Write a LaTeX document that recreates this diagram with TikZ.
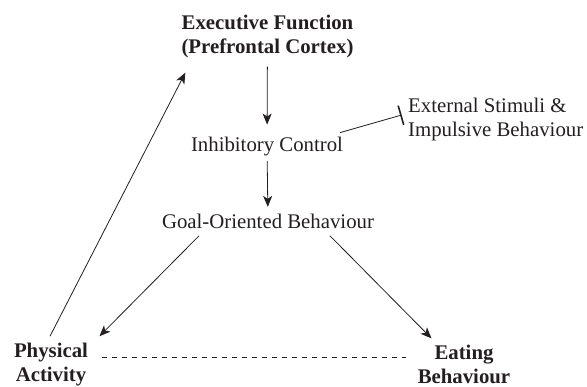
\documentclass[tikz,border=0pt]{standalone}
\usepackage{fontspec}
\setmainfont{Liberation Serif}
\newfontfamily\tnr{Liberation Serif}
\usetikzlibrary{arrows.meta,calc}
\definecolor{ink}{HTML}{231F20}
\begin{document}
\begin{tikzpicture}[x=1pt,y=-1pt,
  lbl/.style={inner sep=0pt, text=ink, font=\tnr\fontsize{20.8}{24}\selectfont},
  boldlbl/.style={inner sep=0pt, text=ink, align=center, font=\tnr\fontsize{20.8}{24}\selectfont\bfseries},
  conn/.style={draw=ink, line width=0.8pt, -{Stealth[length=11pt,width=9pt,inset=3pt]}},
  inhib/.style={draw=ink, line width=0.8pt, -{Bar[width=20pt,line width=1.6pt]}},
  link/.style={draw=ink, line width=0.8pt, dash pattern=on 5.5pt off 4.5pt}]
\useasboundingbox (0,0) rectangle (587,386);
\node[boldlbl] (ef) at (267.5,36) {Executive Function\\(Prefrontal Cortex)};
\node[lbl, anchor=base] (ic) at (267,151.7) {Inhibitory Control};
\node[lbl, anchor=base] (gob) at (268,228.3) {Goal-Oriented Behaviour};
\node[lbl, align=left, anchor=west] (es) at (408,119) {External Stimuli \&\\Impulsive Behaviour};
\node[boldlbl] (pa) at (51,364.5) {Physical\\Activity};
\node[boldlbl] (eb) at (464,364.5) {Eating\\Behaviour};
\draw[conn, shorten <=9pt, shorten >=12.5pt] (ef) -- (ic);
\draw[conn, shorten <=4.5pt, shorten >=6.8pt] (ic) -- (gob);
\draw[conn] ($(gob.south west)+(37.3,7)$) -- ($(pa.north east)+(11.3,-6.6)$);
\draw[conn] ($(gob.south east)+(-44.3,7)$) -- ($(eb.north west)+(13.9,-6.6)$);
\draw[conn] ($(pa.north)+(-1,-6.6)$) -- ($(ef.south west)+(4,15)$);
\draw[inhib] ($(ic.north east)+(-3,-4.5)$) -- ($(es.west)+(-6.3,-4)$);
\draw[link] ($(pa.east)+(13.7,-7)$) -- ($(eb.west)+(-11.1,-7)$);
\end{tikzpicture}
\end{document}
